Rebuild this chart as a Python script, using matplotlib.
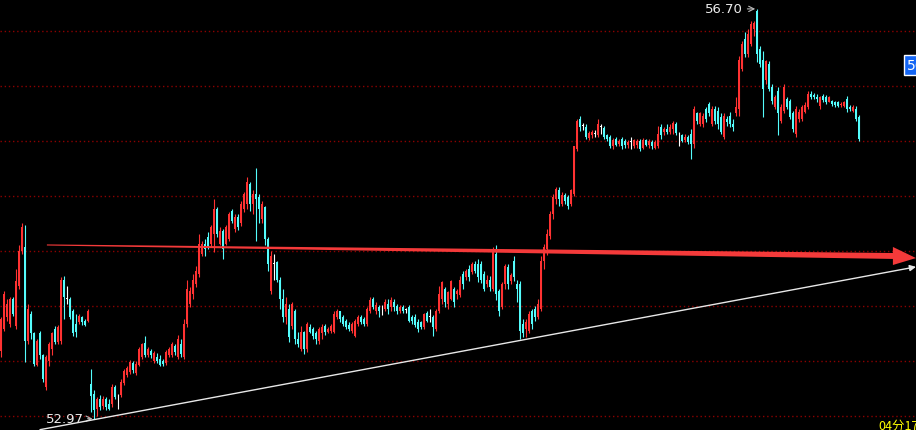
import matplotlib
matplotlib.use("Agg")
import matplotlib.pyplot as plt
from matplotlib.patches import Polygon
import numpy as np

# intraday candles, one per bar, prices
opens = [
    53.59, 53.79, 53.90, 53.84, 54.06, 53.82, 54.18, 54.50, 54.54, 53.68,
    53.93, 53.75, 53.46, 53.75, 53.55, 53.26, 53.50, 53.61, 53.79, 53.67,
    53.68, 54.24, 54.06, 54.06, 53.95, 53.84, 53.85, 53.90, 53.86, 53.86,
    53.29, 53.20, 53.06, 53.15, 53.09, 53.15, 53.11, 53.11, 53.26, 53.15,
    53.19, 53.30, 53.37, 53.40, 53.48, 53.39, 53.46, 53.54, 53.66, 53.55,
    53.59, 53.50, 53.54, 53.52, 53.50, 53.48, 53.55, 53.55, 53.64, 53.54,
    53.65, 53.54, 53.84,
    54.02, 54.11, 54.20, 54.29, 54.47, 54.56, 54.63, 54.56, 54.65, 54.88,
    54.56, 54.68, 54.56, 54.61, 54.86, 54.70, 54.81, 54.75, 54.88, 54.93,
    55.11, 54.93, 55.02, 54.99, 54.79, 54.90, 54.61, 54.14, 54.38, 54.40,
    54.24, 54.06, 53.90, 53.97, 53.82, 53.95, 53.70, 53.61, 53.76, 53.61,
    53.81, 53.79, 53.75, 53.68, 53.75, 53.82, 53.76, 53.77, 53.76, 53.90,
    53.95, 53.90, 53.86, 53.83, 53.77, 53.73, 53.84, 53.90, 53.88, 53.84,
    53.95, 54.06, 53.95, 53.99,
    53.95, 53.97, 54.02, 53.99, 54.04, 54.00, 53.95, 53.99, 53.96, 53.99,
    53.90, 53.90, 53.85, 53.85, 53.81, 53.94, 53.90, 53.90, 53.79, 53.95,
    54.06, 54.15, 54.02, 54.06, 54.15, 54.11, 54.10, 54.29, 54.26, 54.34,
    54.31, 54.38, 54.38, 54.38, 54.29, 54.20, 54.24, 54.15, 54.47, 54.14,
    53.99, 54.20, 54.35, 54.23, 54.41, 54.20, 54.20, 53.84, 53.79, 53.77,
    53.95, 53.97, 53.90, 53.97, 54.41, 54.52, 54.64,
    54.84, 54.97, 55.05, 54.93, 55.01, 54.99, 54.93, 55.02, 55.43, 55.70,
    55.64, 55.63, 55.53, 55.55, 55.56, 55.55, 55.63, 55.62, 55.55, 55.54,
    55.45, 55.52, 55.47, 55.52, 55.50, 55.46, 55.49, 55.45, 55.46, 55.50,
    55.44, 55.51, 55.46, 55.49, 55.44, 55.45, 55.63, 55.58, 55.61, 55.58,
    55.61, 55.65, 55.55, 55.55, 55.51, 55.54, 55.56, 55.47, 55.75, 55.65,
    55.65, 55.79, 55.84, 55.65, 55.79, 55.77, 55.72, 55.54, 55.70, 55.73,
    55.65, 55.75, 55.79, 56.15, 56.43, 56.29, 56.38, 56.52, 56.68, 56.34,
    56.24, 56.05, 56.20, 55.99, 55.81, 55.95, 55.68, 55.77, 55.88, 55.86,
    55.75, 55.56, 55.70, 55.70, 55.76, 55.81, 55.93, 55.92, 55.90, 55.82,
    55.91, 55.90, 55.85, 55.86, 55.85, 55.85, 55.83, 55.82, 55.88, 55.81,
    55.77, 55.79, 55.72,
]
closes = [
    53.88, 54.11, 54.02, 54.06, 53.93, 54.23, 54.50, 54.72, 53.68, 53.97,
    53.75, 53.47, 53.68, 53.55, 53.34, 53.54, 53.65, 53.75, 53.67, 53.81,
    54.24, 54.08, 54.06, 53.90, 53.75, 53.76, 53.91, 53.85, 53.83, 53.95,
    53.18, 53.05, 53.15, 53.08, 53.15, 53.08, 53.06, 53.26, 53.17, 53.15,
    53.31, 53.41, 53.44, 53.49, 53.42, 53.47, 53.61, 53.65, 53.55, 53.61,
    53.55, 53.57, 53.50, 53.46, 53.47, 53.58, 53.61, 53.65, 53.58, 53.70,
    53.56, 53.84, 54.15,
    54.14, 54.24, 54.32, 54.56, 54.56, 54.52, 54.54, 54.72, 54.88, 54.65,
    54.68, 54.52, 54.72, 54.84, 54.77, 54.81, 54.72, 54.93, 55.02, 55.13,
    54.93, 55.02, 54.97, 54.88, 54.93, 54.61, 54.38, 54.45, 54.38, 54.24,
    54.06, 53.90, 54.02, 53.72, 54.02, 53.70, 53.65, 53.76, 53.61, 53.84,
    53.76, 53.73, 53.70, 53.79, 53.81, 53.76, 53.79, 53.82, 53.93, 53.95,
    53.88, 53.84, 53.81, 53.79, 53.84, 53.86, 53.90, 53.85, 53.84, 53.97,
    54.05, 53.99, 54.01, 53.95,
    53.95, 54.04, 53.97, 54.05, 53.99, 53.95, 53.99, 53.95, 53.96, 53.86,
    53.86, 53.83, 53.79, 53.81, 53.93, 53.86, 53.90, 53.81, 53.95, 54.11,
    54.22, 54.04, 54.13, 54.23, 54.04, 54.14, 54.24, 54.20, 54.32, 54.26,
    54.38, 54.32, 54.26, 54.24, 54.15, 54.24, 54.17, 54.50, 54.11, 53.95,
    54.20, 54.36, 54.20, 54.28, 54.26, 54.15, 53.77, 53.75, 53.85, 53.93,
    53.84, 53.90, 54.02, 54.41, 54.54, 54.65, 54.84,
    54.99, 55.06, 54.97, 55.01, 54.95, 54.91, 55.05, 55.45, 55.68, 55.63,
    55.64, 55.54, 55.57, 55.58, 55.56, 55.65, 55.63, 55.54, 55.52, 55.45,
    55.51, 55.46, 55.50, 55.45, 55.46, 55.49, 55.49, 55.51, 55.50, 55.43,
    55.51, 55.46, 55.50, 55.45, 55.49, 55.56, 55.55, 55.61, 55.58, 55.63,
    55.66, 55.57, 55.55, 55.50, 55.54, 55.49, 55.47, 55.79, 55.68, 55.75,
    55.73, 55.70, 55.75, 55.79, 55.68, 55.65, 55.58, 55.73, 55.67, 55.65,
    55.63, 55.81, 56.24, 56.38, 56.29, 56.47, 56.56, 56.57, 56.29, 56.20,
    55.97, 56.23, 55.97, 55.86, 55.90, 55.75, 55.81, 55.99, 55.81, 55.72,
    55.61, 55.79, 55.76, 55.81, 55.83, 55.93, 55.90, 55.90, 55.88, 55.90,
    55.87, 55.85, 55.90, 55.84, 55.83, 55.82, 55.84, 55.85, 55.79, 55.79,
    55.81, 55.70, 55.52,
]
highs = [
    53.90, 54.14, 54.06, 54.08, 54.08, 54.34, 54.55, 54.75, 54.74, 54.02,
    53.95, 53.76, 53.70, 53.77, 53.56, 53.55, 53.67, 53.76, 53.82, 53.83,
    54.26, 54.27, 54.18, 54.08, 53.97, 53.93, 53.93, 53.91, 53.88, 53.97,
    53.43, 53.24, 53.17, 53.19, 53.18, 53.17, 53.15, 53.29, 53.28, 53.20,
    53.34, 53.43, 53.45, 53.51, 53.50, 53.50, 53.63, 53.66, 53.73, 53.63,
    53.61, 53.59, 53.57, 53.55, 53.52, 53.60, 53.63, 53.67, 53.65, 53.74,
    53.70, 53.88, 54.24,
    54.17, 54.29, 54.36, 54.65, 54.59, 54.61, 54.67, 54.74, 54.97, 54.90,
    54.72, 54.70, 54.74, 54.85, 54.88, 54.84, 54.84, 54.95, 55.04, 55.17,
    55.13, 55.05, 55.25, 55.02, 54.95, 54.91, 54.63, 54.50, 54.47, 54.41,
    54.26, 54.15, 54.08, 54.02, 54.04, 53.97, 53.76, 53.82, 53.77, 53.85,
    53.84, 53.81, 53.77, 53.81, 53.84, 53.84, 53.81, 53.84, 53.95, 53.97,
    53.95, 53.92, 53.88, 53.85, 53.85, 53.88, 53.92, 53.92, 53.90, 53.99,
    54.08, 54.08, 54.04, 54.01,
    54.01, 54.06, 54.06, 54.08, 54.06, 54.02, 54.01, 54.01, 53.98, 54.01,
    53.92, 53.93, 53.88, 53.86, 53.94, 53.95, 53.97, 53.92, 53.97, 54.18,
    54.23, 54.17, 54.14, 54.24, 54.17, 54.15, 54.27, 54.32, 54.34, 54.37,
    54.40, 54.41, 54.43, 54.41, 54.32, 54.28, 54.27, 54.54, 54.55, 54.15,
    54.22, 54.38, 54.38, 54.30, 54.45, 54.24, 54.23, 53.88, 53.88, 53.95,
    53.97, 54.00, 54.06, 54.45, 54.56, 54.70, 54.86,
    55.02, 55.08, 55.08, 55.04, 55.03, 55.01, 55.06, 55.45, 55.70, 55.73,
    55.66, 55.65, 55.59, 55.60, 55.60, 55.70, 55.65, 55.64, 55.56, 55.55,
    55.53, 55.54, 55.52, 55.54, 55.52, 55.51, 55.54, 55.52, 55.52, 55.52,
    55.53, 55.52, 55.52, 55.51, 55.51, 55.64, 55.65, 55.63, 55.65, 55.65,
    55.68, 55.67, 55.58, 55.56, 55.56, 55.55, 55.61, 55.82, 55.76, 55.76,
    55.75, 55.81, 55.85, 55.82, 55.82, 55.81, 55.75, 55.75, 55.73, 55.76,
    55.70, 55.90, 56.27, 56.41, 56.49, 56.52, 56.59, 56.59, 56.70, 56.36,
    56.32, 56.24, 56.23, 56.02, 55.92, 55.99, 55.84, 56.02, 55.90, 55.88,
    55.77, 55.82, 55.79, 55.83, 55.85, 55.95, 55.95, 55.94, 55.93, 55.91,
    55.93, 55.92, 55.91, 55.87, 55.86, 55.86, 55.85, 55.86, 55.91, 55.83,
    55.83, 55.82, 55.74,
]
lows = [
    53.54, 53.77, 53.86, 53.81, 53.91, 53.79, 54.15, 54.47, 53.49, 53.65,
    53.70, 53.45, 53.45, 53.52, 53.31, 53.24, 53.45, 53.55, 53.65, 53.65,
    53.65, 53.88, 54.02, 53.88, 53.73, 53.72, 53.84, 53.83, 53.82, 53.85,
    53.04, 52.97, 53.00, 53.05, 53.06, 53.05, 53.05, 53.08, 53.15, 53.06,
    53.17, 53.28, 53.35, 53.38, 53.39, 53.37, 53.45, 53.52, 53.54, 53.54,
    53.53, 53.48, 53.48, 53.45, 53.45, 53.46, 53.54, 53.54, 53.55, 53.52,
    53.54, 53.52, 53.81,
    53.99, 54.06, 54.17, 54.26, 54.45, 54.45, 54.52, 54.54, 54.49, 54.63,
    54.55, 54.43, 54.55, 54.59, 54.75, 54.67, 54.69, 54.73, 54.85, 54.88,
    54.86, 54.84, 54.59, 54.75, 54.75, 54.55, 54.32, 54.11, 54.24, 54.22,
    53.97, 53.85, 53.84, 53.67, 53.79, 53.65, 53.63, 53.59, 53.56, 53.58,
    53.75, 53.70, 53.65, 53.65, 53.70, 53.74, 53.75, 53.75, 53.75, 53.88,
    53.85, 53.82, 53.79, 53.77, 53.75, 53.72, 53.82, 53.84, 53.82, 53.82,
    53.94, 53.97, 53.93, 53.90,
    53.92, 53.95, 53.93, 53.95, 53.95, 53.93, 53.94, 53.94, 53.94, 53.85,
    53.84, 53.81, 53.76, 53.79, 53.79, 53.85, 53.85, 53.73, 53.77, 53.94,
    54.02, 53.99, 53.97, 54.05, 53.99, 54.06, 54.08, 54.15, 54.24, 54.23,
    54.29, 54.30, 54.22, 54.21, 54.14, 54.17, 54.14, 54.14, 54.05, 53.91,
    53.97, 54.15, 54.15, 54.20, 54.23, 54.04, 53.70, 53.72, 53.72, 53.75,
    53.79, 53.86, 53.88, 53.95, 54.34, 54.46, 54.61,
    54.79, 54.93, 54.91, 54.91, 54.93, 54.88, 54.91, 55.00, 55.41, 55.59,
    55.60, 55.52, 55.51, 55.53, 55.54, 55.54, 55.56, 55.52, 55.50, 55.44,
    55.43, 55.45, 55.45, 55.43, 55.44, 55.44, 55.43, 55.44, 55.44, 55.41,
    55.43, 55.45, 55.44, 55.43, 55.43, 55.44, 55.52, 55.55, 55.56, 55.56,
    55.56, 55.55, 55.45, 55.49, 55.49, 55.47, 55.34, 55.44, 55.65, 55.64,
    55.63, 55.67, 55.73, 55.64, 55.65, 55.61, 55.56, 55.52, 55.64, 55.63,
    55.59, 55.73, 55.73, 56.14, 56.26, 56.26, 56.36, 56.45, 56.22, 56.17,
    55.72, 56.02, 55.95, 55.84, 55.79, 55.55, 55.66, 55.75, 55.79, 55.70,
    55.58, 55.54, 55.67, 55.68, 55.75, 55.79, 55.88, 55.88, 55.85, 55.79,
    55.85, 55.84, 55.85, 55.82, 55.81, 55.81, 55.81, 55.81, 55.76, 55.77,
    55.76, 55.68, 55.50,
]
grid_levels = [53.0, 53.5, 54.0, 54.5, 55.0, 55.5, 56.0, 56.5]
high_label = "56.70"
low_label = "52.97"
clock_text = "04分17"
side_label = "56.19"

UP = "#ff3232"
DOWN = "#54fcfc"
FLAT = "#ffffff"

o = np.array(opens)
c = np.array(closes)
h = np.array(highs)
l = np.array(lows)
x = np.arange(len(o))
cols = np.where(c > o, UP, np.where(c < o, DOWN, FLAT))

fig = plt.figure(figsize=(9.16, 4.31), dpi=100, facecolor="black")
ax = fig.add_axes([0, 0, 1, 1])
ax.set_facecolor("black")
ax.set_xlim(-1 / 3, 305.0)
ax.set_ylim(52.872, 56.79)
ax.axis("off")

for g in grid_levels:
    ax.axhline(g, color="#8c0000", lw=1, ls=(0, (1, 2)), zorder=1)

ax.vlines(x, l, h, colors=cols, lw=0.8, zorder=2)
body = np.maximum(np.abs(c - o), 0.008)
ax.bar(x, body, bottom=np.minimum(o, c), width=0.8, color=cols,
       linewidth=0, zorder=3)

# hand-drawn support line
ax.annotate("", xy=(305, 54.355), xytext=(13, 52.875),
            arrowprops=dict(arrowstyle="-|>", color="#e8e8e8", lw=1,
                            mutation_scale=9, shrinkA=0, shrinkB=0),
            zorder=4)

# fat red arrow
arrow = Polygon([(15.3, 54.559), (297.3, 54.481), (297.3, 54.536),
                 (305.0, 54.435), (297.3, 54.372), (297.3, 54.427),
                 (15.3, 54.549)], closed=True, facecolor="#f43a3a",
                edgecolor="none", zorder=5)
ax.add_patch(arrow)

# max / min markers
ax.annotate(high_label, xy=(251.4, 56.70), xytext=(-12, 0),
            textcoords="offset pixels", ha="right", va="center",
            color="#ececec", fontsize=9.5,
            arrowprops=dict(arrowstyle="->", color="#bbbbbb", lw=0.8,
                            shrinkA=1, shrinkB=0))
ax.annotate(low_label, xy=(30.5, 52.975), xytext=(-9, 0),
            textcoords="offset pixels", ha="right", va="center",
            color="#ececec", fontsize=9.5,
            arrowprops=dict(arrowstyle="->", color="#bbbbbb", lw=0.8,
                            shrinkA=1, shrinkB=0))

fig.text(907 / 916, 1 - 66 / 431, side_label, color="white", fontsize=10,
         ha="left", va="center",
         bbox=dict(boxstyle="square,pad=0.2", facecolor="#1466f5",
                   edgecolor="white", lw=1))
fig.text(878 / 916, 1 - 420 / 431, clock_text, color="#ffff00", fontsize=9,
         ha="left", va="top", family=["Noto Sans CJK SC", "DejaVu Sans"])

fig.savefig("out.png", dpi=100, facecolor="black")
